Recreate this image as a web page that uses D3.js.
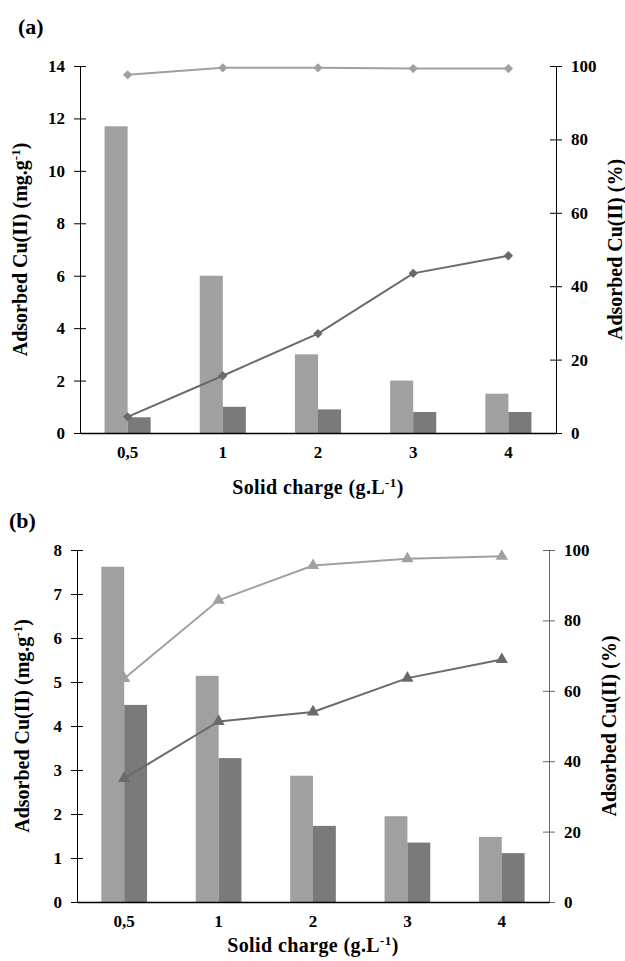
<!DOCTYPE html>
<html>
<head>
<meta charset="utf-8">
<script src="https://cdn.jsdelivr.net/npm/d3@7"></script>
<style>
  body { margin: 0; background: #fff; }
  svg { display: block; }
  text { font-family: "Liberation Serif", "Times New Roman", serif; font-weight: bold; fill: #000; }
</style>
</head>
<body>
<svg id="chart" width="625" height="961"></svg>
<script>
// categories (solid charge, g/L)
var categories = ["0,5", "1", "2", "3", "4"];

// panel (a) - bars in mg/g, lines in %
var barsALight = [11.7, 6.0, 3.0, 2.0, 1.5];
var barsADark = [0.6, 1.0, 0.9, 0.8, 0.8];
var lineALight = [97.6, 99.5, 99.5, 99.3, 99.3];
var lineADark = [4.4, 15.6, 27.1, 43.5, 48.3];
var leftTicksA = [0, 2, 4, 6, 8, 10, 12, 14];

// panel (b)
var barsBLight = [7.62, 5.14, 2.87, 1.95, 1.48];
var barsBDark = [4.48, 3.27, 1.73, 1.35, 1.11];
var lineBLight = [63.5, 85.7, 95.6, 97.5, 98.2];
var lineBDark = [35.1, 51.3, 54.0, 63.6, 68.9];
var leftTicksB = [0, 1, 2, 3, 4, 5, 6, 7, 8];

var rightTicks = [0, 20, 40, 60, 80, 100];

var lightGray = "#a0a0a0";
var darkGray = "#7a7a7a";
var darkLine = "#6a6a6a";

var svg = d3.select("#chart");

function drawPanel(p) {
  var g = svg.append("g");

  var x = d3.scaleBand()
      .domain(categories)
      .range([p.x0, p.x1])
      .paddingInner(0.516)
      .paddingOuter(0.258);
  var xSub = d3.scaleBand()
      .domain(["light", "dark"])
      .range([0, x.bandwidth()]);
  var yL = d3.scaleLinear().domain([0, p.leftMax]).range([p.y0, p.y1]);
  var yR = d3.scaleLinear().domain([0, 100]).range([p.y0, p.y1]);

  // bars
  var barData = categories.map(function(c, i) {
    return [{cat: c, key: "light", v: p.barsLight[i]},
            {cat: c, key: "dark", v: p.barsDark[i]}];
  });
  g.selectAll(".grp").data(barData).enter().append("g")
      .attr("transform", function(d) { return "translate(" + x(d[0].cat) + ",0)"; })
    .selectAll("rect").data(function(d) { return d; }).enter().append("rect")
      .attr("x", function(d) { return xSub(d.key); })
      .attr("width", xSub.bandwidth())
      .attr("y", function(d) { return yL(d.v); })
      .attr("height", function(d) { return yL(0) - yL(d.v); })
      .attr("fill", function(d) { return d.key == "light" ? lightGray : darkGray; });

  // axes
  var axL = g.append("g")
      .attr("transform", "translate(" + p.x0 + ",0)")
      .call(d3.axisLeft(yL).tickValues(p.leftTicks).tickSizeOuter(0).tickPadding(9));
  var axR = g.append("g")
      .attr("transform", "translate(" + p.x1 + ",0)")
      .call(d3.axisRight(yR).tickValues(rightTicks).tickSizeOuter(0).tickPadding(9));
  axL.selectAll(".tick line").attr("x1", 6).attr("x2", -6);
  axR.selectAll(".tick line").attr("x1", -6).attr("x2", 6);
  axR.select(".domain").attr("stroke", p.rightAxisColor);
  axR.selectAll(".tick line").attr("stroke", p.rightAxisColor);

  var axX = g.append("g")
      .attr("transform", "translate(0," + p.y0 + ")")
      .call(d3.axisBottom(x).tickSize(0).tickPadding(13));
  axX.select(".domain").attr("stroke-width", 1.5);

  g.selectAll(".tick text")
      .attr("font-size", 17)
      .attr("font-family", "Liberation Serif")
      .attr("font-weight", "bold")
      .attr("fill", "#000");

  // lines
  var line = d3.line()
      .x(function(d, i) { return x(categories[i]) + x.bandwidth() / 2; })
      .y(function(d) { return yR(d); });

  [{vals: p.lineLight, color: lightGray}, {vals: p.lineDark, color: darkLine}].forEach(function(s) {
    g.append("path")
        .attr("d", line(s.vals))
        .attr("fill", "none")
        .attr("stroke", s.color)
        .attr("stroke-width", 2);
    g.selectAll(null).data(s.vals).enter().append("path")
        .attr("transform", function(d, i) {
          return "translate(" + (x(categories[i]) + x.bandwidth() / 2) + "," + yR(d) + ")";
        })
        .attr("d", d3.symbol().type(p.marker).size(p.marker === d3.symbolTriangle ? 65 : 55))
        .attr("fill", s.color);
  });

  // titles
  g.append("text")
      .attr("x", p.labelX)
      .attr("y", p.labelY)
      .attr("font-size", 22)
      .text(p.label);

  var xt = g.append("text")
      .attr("x", (p.x0 + p.x1) / 2)
      .attr("y", p.xTitleY)
      .attr("text-anchor", "middle")
      .attr("font-size", 20)
      .attr("letter-spacing", 0.4)
      .text("Solid charge (g.L");
  xt.append("tspan").attr("font-size", 13).attr("dy", -7).text("-1");
  xt.append("tspan").attr("dy", 7).text(")");

  var ymid = (p.y0 + p.y1) / 2;
  var yt = g.append("text")
      .attr("transform", "translate(" + p.yTitleX + "," + ymid + ") rotate(-90)")
      .attr("text-anchor", "middle")
      .attr("font-size", 20)
      .text("Adsorbed Cu(II) (mg.g");
  yt.append("tspan").attr("font-size", 13).attr("dy", -7).text("-1");
  yt.append("tspan").attr("dy", 7).text(")");

  g.append("text")
      .attr("transform", "translate(" + p.rTitleX + "," + ymid + ") rotate(-90)")
      .attr("text-anchor", "middle")
      .attr("font-size", 20)
      .text("Adsorbed Cu(II) (%)");
}

drawPanel({
  x0: 80, x1: 556, y0: 433, y1: 66, leftMax: 14,
  leftTicks: leftTicksA,
  barsLight: barsALight, barsDark: barsADark,
  lineLight: lineALight, lineDark: lineADark,
  marker: d3.symbolDiamond2, rightAxisColor: "#000",
  label: "(a)", labelX: 18, labelY: 34,
  xTitleY: 494, yTitleX: 27, rTitleX: 622
});

drawPanel({
  x0: 77, x1: 549, y0: 902, y1: 550, leftMax: 8,
  leftTicks: leftTicksB,
  barsLight: barsBLight, barsDark: barsBDark,
  lineLight: lineBLight, lineDark: lineBDark,
  marker: d3.symbolTriangle, rightAxisColor: "#666",
  label: "(b)", labelX: 9, labelY: 528,
  xTitleY: 952, yTitleX: 29, rTitleX: 616
});
</script>
</body>
</html>
